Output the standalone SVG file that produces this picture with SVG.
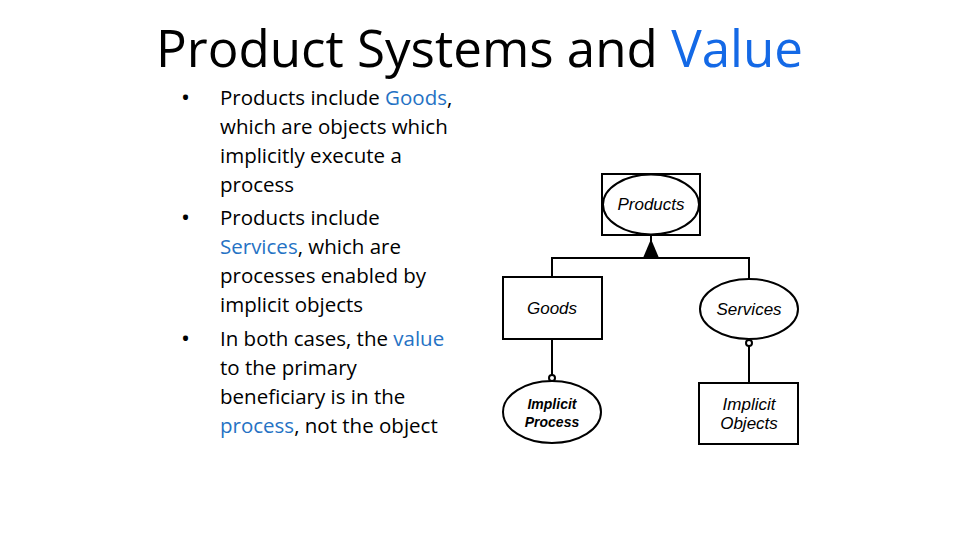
<svg xmlns="http://www.w3.org/2000/svg" width="960" height="540" viewBox="0 0 960 540">
<style>
.title{font-family:"Open Sans","Noto Sans",sans-serif;font-size:52px;fill:#000}
.body{font-family:"Open Sans","Noto Sans",sans-serif;font-size:20.5px;fill:#000}
.bul{font-size:24px}
.blue{fill:#2572c4}
.tblue{fill:#1469e6}
.shape{fill:#fff;stroke:#000;stroke-width:2}
.line{fill:none;stroke:#000;stroke-width:2}
.lbl{font-family:"Liberation Sans",Arial,sans-serif;font-style:italic;font-size:17px;fill:#000;text-anchor:middle}
.sm{font-size:14px;font-weight:bold}
</style>
<rect width="960" height="540" fill="#fff"/>
<text class="title" x="156" y="67" textLength="647" lengthAdjust="spacingAndGlyphs">Product Systems and <tspan class="tblue">Value</tspan></text>
<g id="bullets" class="body">
<text class="bul" x="181" y="106">•</text>
<text x="220" y="105">Products include <tspan class="blue">Goods</tspan>,</text>
<text x="220" y="134">which are objects which</text>
<text x="220" y="163">implicitly execute a</text>
<text x="220" y="192">process</text>
<text class="bul" x="181" y="226">•</text>
<text x="220" y="225">Products include</text>
<text x="220" y="254"><tspan class="blue">Services</tspan>, which are</text>
<text x="220" y="283">processes enabled by</text>
<text x="220" y="312">implicit objects</text>
<text class="bul" x="181" y="347">•</text>
<text x="220" y="346">In both cases, the <tspan class="blue">value</tspan></text>
<text x="220" y="375">to the primary</text>
<text x="220" y="404">beneficiary is in the</text>
<text x="220" y="433"><tspan class="blue">process</tspan>, not the object</text>
</g>
<g id="connectors">
<polyline class="line" points="552,277 552,258 749,258 749,278"/>
<line class="line" x1="651" y1="235" x2="651" y2="258"/>
<polygon points="651,239 643,258 659,258" fill="#000"/>
<line class="line" x1="552" y1="339" x2="552" y2="375"/>
<circle cx="552" cy="378" r="3" class="shape"/>
<line class="line" x1="749" y1="346" x2="749" y2="383"/>
<circle cx="749" cy="343" r="3" class="shape"/>
</g>
<g id="products">
<rect class="shape" x="602" y="174" width="98" height="61"/>
<ellipse class="shape" cx="651" cy="204.5" rx="48" ry="30"/>
<text class="lbl" x="651" y="210">Products</text>
</g>
<g id="goods">
<rect class="shape" x="503" y="277" width="99" height="62"/>
<text class="lbl" x="552" y="314">Goods</text>
</g>
<g id="services">
<ellipse class="shape" cx="749" cy="309" rx="49" ry="30"/>
<text class="lbl" x="749" y="315">Services</text>
</g>
<g id="implicit-process">
<ellipse class="shape" cx="552" cy="412" rx="49" ry="31"/>
<text class="lbl sm" x="552" y="409">Implicit</text>
<text class="lbl sm" x="552" y="427">Process</text>
</g>
<g id="implicit-objects">
<rect class="shape" x="699" y="383" width="99" height="61"/>
<text class="lbl" x="749" y="410">Implicit</text>
<text class="lbl" x="749" y="429">Objects</text>
</g>
</svg>
